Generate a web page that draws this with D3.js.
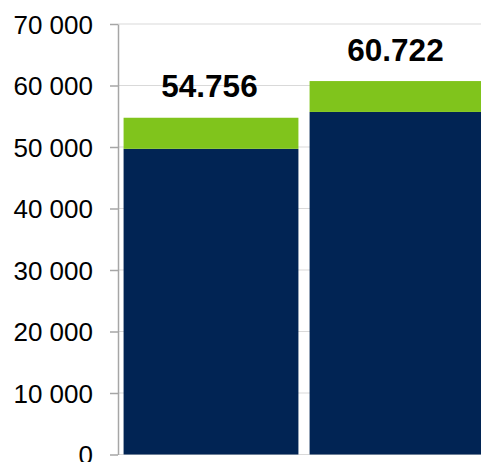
<!DOCTYPE html>
<html>
<head>
<meta charset="utf-8">
<script src="https://cdn.jsdelivr.net/npm/d3@7/dist/d3.min.js"></script>
<style>
  html, body { margin: 0; padding: 0; background: #fff; overflow: hidden; }
  svg { display: block; font-family: "Liberation Sans", Arial, sans-serif; }
</style>
</head>
<body>
<svg id="chart" width="481" height="462"></svg>
<script>
// Chart data
const categories = ["Period 1", "Period 2"];
const baseValues = [49700, 55700];     // dark navy segment
const topValues = [5056, 5022];        // green segment
const totalLabels = ["54.756", "60.722"];
const yTicks = [0, 10000, 20000, 30000, 40000, 50000, 60000, 70000];
const yTickLabels = ["0", "10 000", "20 000", "30 000", "40 000", "50 000", "60 000", "70 000"];

const colors = { base: "#012454", top: "#80c41c" };

const svg = d3.select("#chart");
const W = 481, H = 462;
const axisX = 118;

const y = d3.scaleLinear().domain([0, 70000]).range([454.5, 24]);
const x = d3.scaleBand().domain(categories).range([axisX, 490])
  .paddingInner(0.06).paddingOuter(0.03);

// Gridlines
svg.append("g")
  .selectAll("line")
  .data(yTicks)
  .join("line")
  .attr("x1", axisX).attr("x2", W)
  .attr("y1", d => y(d)).attr("y2", d => y(d))
  .attr("stroke", "#d9d9d9").attr("stroke-width", 1);

// Stacked bars
const rows = categories.map((c, i) => ({ cat: c, base: baseValues[i], top: topValues[i] }));
const stack = d3.stack().keys(["base", "top"])(rows);

svg.append("g")
  .selectAll("g")
  .data(stack)
  .join("g")
  .attr("fill", d => colors[d.key])
  .selectAll("rect")
  .data(d => d)
  .join("rect")
  .attr("x", d => x(d.data.cat))
  .attr("width", x.bandwidth())
  .attr("y", d => y(d[1]))
  .attr("height", d => y(d[0]) - y(d[1]));

// Total labels
svg.append("g")
  .selectAll("text")
  .data(rows)
  .join("text")
  .attr("x", d => x(d.cat) + x.bandwidth() / 2 - 1.5)
  .attr("y", d => y(d.base + d.top) - 20.5)
  .attr("text-anchor", "middle")
  .attr("font-size", 31.5)
  .attr("font-weight", "bold")
  .attr("fill", "#000")
  .text((d, i) => totalLabels[i]);

// Y axis
const yAxis = d3.axisLeft(y)
  .tickValues(yTicks)
  .tickFormat((d, i) => yTickLabels[i])
  .tickSize(8)
  .tickPadding(17)
  .tickSizeOuter(0);

const gy = svg.append("g")
  .attr("transform", `translate(${axisX},0)`)
  .call(yAxis);
gy.select(".domain").attr("stroke", "#a6a6a6").attr("stroke-width", 1.5);
gy.selectAll(".tick line").attr("stroke", "#a6a6a6").attr("stroke-width", 1.5);
gy.selectAll(".tick text")
  .attr("font-family", "'Liberation Sans', Arial, sans-serif")
  .attr("font-size", 26)
  .attr("fill", "#000")
  .attr("dy", "0.36em");
</script>
</body>
</html>
